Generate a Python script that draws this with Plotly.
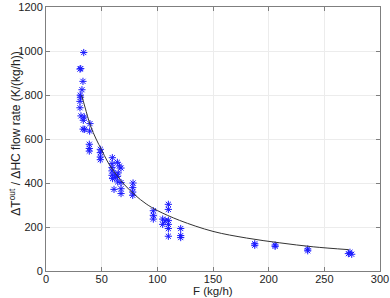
import plotly.graph_objects as go

# Measured points
flow = [33.9, 31.2, 30.5, 33.2, 32.3, 30.8, 31.0, 30.5, 30.5, 31.4, 34.4, 33.5, 33.3, 34.7,
        39.5, 39.2, 38.9, 38.9, 38.9, 48.8, 48.8, 48.8, 48.8,
        59.6, 59.3, 59.3, 59.3, 59.3, 59.8, 64.1, 65.9, 67.4, 64.9, 64.2, 62.0, 63.0,
        64.4, 67.4, 61.1, 67.4, 67.4, 78.2, 77.9, 77.9, 77.9,
        96.4, 96.4, 96.4, 104.8, 104.8, 107.0, 109.9, 109.9, 109.9, 109.9, 109.9, 109.9,
        121.0, 121.0, 121.0, 187.5, 187.5, 205.8, 205.8, 235.1, 235.1, 271.6, 274.6, 273.0]
ratio = [993, 920, 918, 862, 824, 799, 790, 771, 742, 705, 700, 685, 645, 644,
         670, 636, 576, 557, 545, 553, 538, 518, 506,
         515, 488, 470, 455, 435, 420, 494, 477, 468, 446, 430, 440, 425,
         405, 402, 371, 374, 352, 400, 379, 359, 344,
         274, 253, 236, 236, 212, 228, 303, 280, 230, 212, 193, 158,
         193, 161, 152, 124, 117, 118, 112, 100, 92, 79, 76, 85]

# Fitted curve
fit_flow = [32, 35, 40, 45, 50, 55, 60, 70, 80, 90, 100, 120, 150, 180, 210, 240, 272]
fit_ratio = [800, 745, 660, 600, 550, 500, 460, 395, 345, 305, 275, 230, 180, 150, 128, 110, 97]

x_ticks = [0, 50, 100, 150, 200, 250, 300]
y_ticks = [0, 200, 400, 600, 800, 1000, 1200]

x_title = "F (kg/h)"
y_title = "ΔT<sup>out</sup> / ΔHC flow rate (K/(kg/h))"

FONT = "Liberation Sans, Arial"

fig = go.Figure()
fig.add_trace(go.Scatter(x=flow, y=ratio, mode="markers",
                         marker=dict(symbol="asterisk-open", size=6,
                                     line=dict(color="#1a1aff", width=1), color="#1a1aff"),
                         showlegend=False))
fig.add_trace(go.Scatter(x=fit_flow, y=fit_ratio, mode="lines",
                         line=dict(color="#333333", width=1, shape="spline"),
                         showlegend=False))

axis_common = dict(showline=True, linecolor="#7f7f7f", linewidth=1, mirror="ticks",
                   ticks="inside", ticklen=4, tickcolor="#7f7f7f", automargin=False,
                   showgrid=True, gridcolor="#ececec", gridwidth=1, zeroline=False,
                   tickfont=dict(family=FONT, size=11, color="#222222"))

fig.update_xaxes(range=[0, 300], tickvals=x_ticks, ticktext=[str(v) for v in x_ticks],
                 ticklabelstandoff=-2, **axis_common)
fig.update_yaxes(range=[0, 1200], tickvals=y_ticks, ticktext=[str(v) for v in y_ticks],
                 **axis_common)

fig.add_annotation(text=x_title, xref="paper", yref="paper", x=0.5, y=-0.077,
                   xanchor="center", yanchor="middle", showarrow=False,
                   font=dict(family=FONT, size=11.5, color="#222222"))
fig.add_annotation(text=y_title, xref="paper", yref="paper", x=-0.093, y=0.52,
                   xanchor="center", yanchor="middle", showarrow=False, textangle=-90,
                   font=dict(family=FONT, size=12, color="#222222"))

fig.update_layout(width=390, height=298, margin=dict(l=46, r=10, t=7, b=27),
                  paper_bgcolor="white", plot_bgcolor="white")

fig.write_html("out.html")
